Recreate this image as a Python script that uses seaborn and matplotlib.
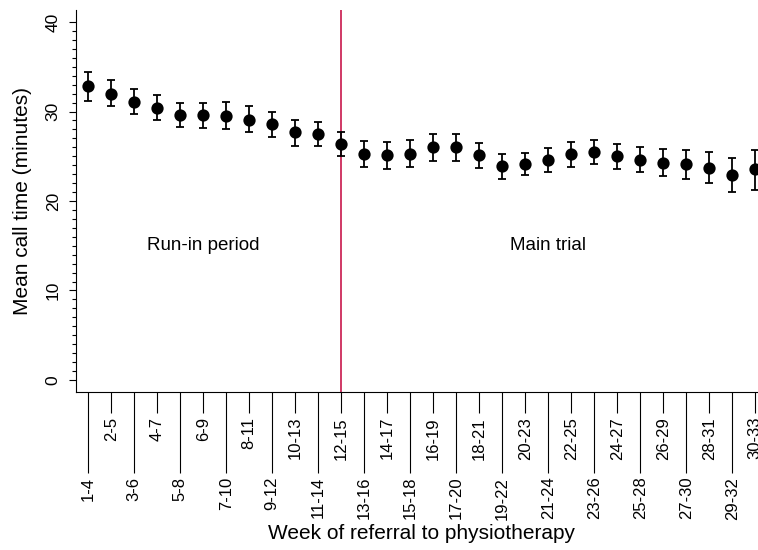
import numpy as np
import pandas as pd
import matplotlib
matplotlib.use("Agg")
import matplotlib.pyplot as plt
import seaborn as sns

# data
weeks = ["1-4", "2-5", "3-6", "4-7", "5-8", "6-9", "7-10", "8-11", "9-12", "10-13",
         "11-14", "12-15", "13-16", "14-17", "15-18", "16-19", "17-20", "18-21", "19-22", "20-23",
         "21-24", "22-25", "23-26", "24-27", "25-28", "26-29", "27-30", "28-31", "29-32", "30-33"]
mean_time = [32.85, 32.0, 31.1, 30.35, 29.65, 29.6, 29.5, 29.1, 28.55, 27.7,
             27.5, 26.35, 25.3, 25.1, 25.3, 26.0, 26.05, 25.1, 23.9, 24.15,
             24.6, 25.2, 25.5, 25.05, 24.6, 24.3, 24.15, 23.7, 22.95, 23.55]
ci_low = [31.2, 30.6, 29.75, 29.05, 28.27, 28.15, 28.0, 27.7, 27.1, 26.2,
          26.1, 25.0, 23.85, 23.6, 23.75, 24.45, 24.5, 23.7, 22.5, 22.85,
          23.25, 23.85, 24.15, 23.6, 23.25, 22.75, 22.45, 22.0, 21.0, 21.2]
ci_high = [34.45, 33.5, 32.5, 31.8, 30.95, 31.0, 31.05, 30.65, 29.95, 29.05,
           28.85, 27.75, 26.75, 26.6, 26.85, 27.5, 27.5, 26.5, 25.2, 25.4,
           25.9, 26.55, 26.8, 26.4, 26.0, 25.8, 25.75, 25.5, 24.85, 25.75]
split_week = "12-15"
period_labels = ["Run-in period", "Main trial"]
period_centres = ["6-9", "21-24"]

df = pd.DataFrame({"week": weeks, "mean": mean_time, "lo": ci_low, "hi": ci_high})
df["pos"] = np.arange(len(df))

sns.set_style("ticks")
plt.rcParams["font.family"] = ["Liberation Sans", "DejaVu Sans"]
plt.rcParams["text.color"] = "black"
plt.rcParams["axes.labelcolor"] = "black"
plt.rcParams["xtick.color"] = "black"
plt.rcParams["ytick.color"] = "black"

fig = plt.figure(figsize=(7.58, 5.5), dpi=100)
ax = fig.add_axes([0.1003, 0.2873, 0.8997, 0.6945])

# confidence intervals
ax.errorbar(df["pos"], df["mean"],
            yerr=[df["mean"] - df["lo"], df["hi"] - df["mean"]],
            fmt="none", ecolor="black", elinewidth=1.3, capsize=3.2, capthick=1.3, zorder=2)

sns.pointplot(data=df, x="week", y="mean", order=weeks, linestyle="none",
              color="black", markers="o", markersize=6.8, errorbar=None, ax=ax, zorder=3)

# split between run-in and main trial
ax.axvline(weeks.index(split_week), color="#c8174b", lw=1.2, zorder=1)

for lab, wk in zip(period_labels, period_centres):
    ax.text(weeks.index(wk), 15, lab, ha="center", va="center", fontsize=13.5)

ax.set_xlim(-0.53, 29.12)
ax.set_ylim(-1.34, 41.34)

# staggered tick labels
pos = df["pos"].to_numpy()
ax.set_xticks(pos[::2], labels=weeks[::2], rotation=90)
ax.set_xticks(pos[1::2], labels=weeks[1::2], rotation=90, minor=True)
ax.tick_params(axis="x", which="major", length=58, width=0.8, pad=3, labelsize=12)
ax.tick_params(axis="x", which="minor", length=15, width=0.8, pad=3, labelsize=12)

ax.set_yticks([0, 10, 20, 30, 40])
ax.set_yticks(np.arange(0, 41, 1), minor=True)
ax.tick_params(axis="y", which="major", length=5, width=0.8, pad=6, labelsize=12.5)
ax.tick_params(axis="y", which="minor", length=3, width=0.8)
for t in ax.get_yticklabels():
    t.set_rotation(90)
    t.set_va("center")

ax.set_xlabel("Week of referral to physiotherapy", fontsize=15)
ax.set_ylabel("Mean call time (minutes)", fontsize=15)
ax.xaxis.set_label_coords(0.507, -0.345)
ax.yaxis.set_label_coords(-0.065, 0.5)

sns.despine(ax=ax)
for s in ["left", "bottom"]:
    ax.spines[s].set_linewidth(0.8)
    ax.spines[s].set_color("black")

fig.savefig("out.png", dpi=100)
